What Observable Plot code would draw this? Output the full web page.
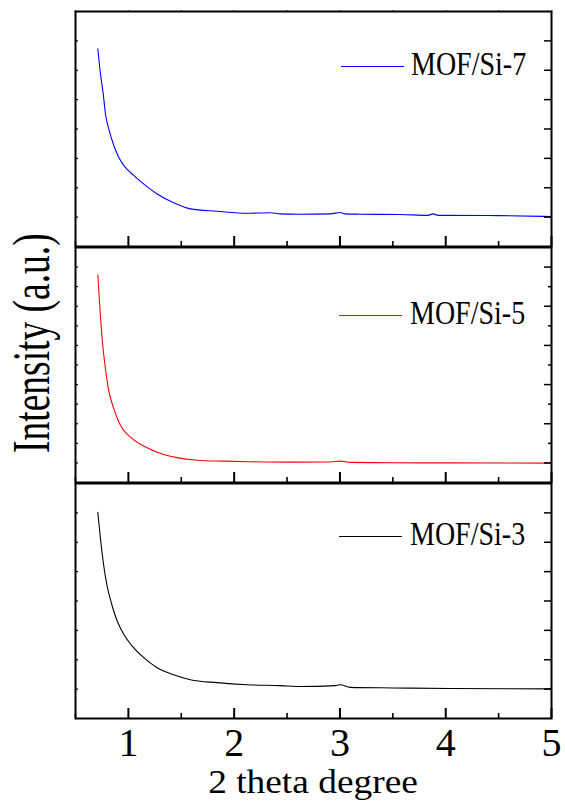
<!DOCTYPE html>
<html>
<head>
<meta charset="utf-8">
<script src="https://cdn.jsdelivr.net/npm/d3@7"></script>
<script src="https://cdn.jsdelivr.net/npm/@observablehq/plot@0.6"></script>
<style>
  html, body { margin: 0; padding: 0; background: #fff; }
  #chart { position: relative; width: 565px; height: 807px; overflow: hidden; font-family: "Liberation Serif", "Times New Roman", "DejaVu Serif", serif; }
  #chart svg { position: absolute; left: 0; }
  .lbl { position: absolute; left: 0; top: 0; white-space: nowrap; line-height: 1; transform-origin: 0 0; color: #000; font-family: "Liberation Serif", "Times New Roman", "DejaVu Serif", serif; }
  .swatch { position: absolute; height: 1px; }
</style>
</head>
<body>
<div id="chart"></div>
<script>
// ---- data ----
const samples = ["MOF/Si-7", "MOF/Si-5", "MOF/Si-3"];
const colors = ["#0000ff", "#ff0000", "#000000"];

const x7 = [0.711,0.736,0.762,0.783,0.814,0.862,0.909,0.956,1.051,1.161,1.272,1.428,1.586,1.838,2.121,2.341,2.436,2.625,2.908,3.002,3.05,3.191,3.569,3.833,3.880,3.928,4.513,5.0];
const y7 = [6.73,5.88,5.20,4.52,4.01,3.44,3.04,2.76,2.42,2.08,1.79,1.49,1.28,1.20,1.13,1.15,1.11,1.10,1.11,1.16,1.11,1.10,1.09,1.06,1.11,1.06,1.05,1.02];

const x5 = [0.711,0.729,0.752,0.783,0.814,0.862,0.909,0.956,1.019,1.145,1.272,1.460,1.649,1.900,2.153,2.530,2.908,3.002,3.097,3.503,4.041,5.0];
const y5 = [10.61,9.04,7.34,5.81,4.70,3.77,3.09,2.66,2.32,1.86,1.55,1.27,1.14,1.09,1.06,1.04,1.05,1.09,1.03,1.01,1.00,0.99];

const x3 = [0.711,0.736,0.767,0.799,0.847,0.894,0.956,1.035,1.145,1.272,1.428,1.586,1.838,2.121,2.436,2.625,2.955,3.002,3.097,3.503,4.041,5.0];
const y3 = [7.02,6.11,5.20,4.51,3.83,3.32,2.87,2.47,2.07,1.73,1.49,1.32,1.22,1.15,1.12,1.09,1.12,1.15,1.06,1.04,1.02,1.01];

const xDomain = [0.5, 5];
const xMajor = [1, 2, 3, 4, 5];
const xMinor = [0.5, 1.5, 2.5, 3.5, 4.5];
const yMax = [8, 12, 8];
const yTicks1 = [1, 2, 3, 4, 5, 6, 7];
const yTicks2Major = [1, 3, 5, 7, 9, 11];
const yTicks2Minor = [2, 4, 6, 8, 10];
const xTitle = "2 theta degree";
const yTitle = "Intensity (a.u.)";

// ---- build ----
const chart = document.getElementById("chart");
const FONT = "'Liberation Serif', 'Times New Roman', 'DejaVu Serif', serif";
const series = [
  x7.map((x, i) => ({x, y: y7[i]})),
  x5.map((x, i) => ({x, y: y5[i]})),
  x3.map((x, i) => ({x, y: y3[i]}))
];

const panelTop = [0, 236, 472];
const mTop = 11, plotH = 235;

samples.forEach((name, k) => {
  const last = k === 2;
  const marks = [
    Plot.line(series[k], {x: "x", y: "y", stroke: colors[k], strokeWidth: 1.1, curve: "monotone-x"}),
    Plot.axisX(xMajor, {anchor: "bottom", tickSize: -10, strokeWidth: 2, tickFormat: () => "", label: null}),
    Plot.axisX(xMinor, {anchor: "bottom", tickSize: -5, strokeWidth: 1.6, tickFormat: () => "", label: null}),
  ];
  if (k === 0) {
    marks.push(Plot.axisX([...xMajor, ...xMinor], {anchor: "top", tickSize: 1.5, strokeWidth: 1.6, tickFormat: () => "", label: null}));
  }
  if (k === 1) {
    const all = [...yTicks2Major, ...yTicks2Minor].sort((a, b) => a - b);
    marks.push(Plot.axisY(all, {anchor: "left", tickSize: -3, strokeWidth: 1.2, tickFormat: () => "", label: null}));
    marks.push(Plot.axisY(yTicks2Major, {anchor: "right", tickSize: -8, strokeWidth: 1.5, tickFormat: () => "", label: null}));
    marks.push(Plot.axisY(yTicks2Minor, {anchor: "right", tickSize: -4, strokeWidth: 1.5, tickFormat: () => "", label: null}));
  } else {
    marks.push(Plot.axisY(yTicks1, {anchor: "left", tickSize: -3, strokeWidth: 1.2, tickFormat: () => "", label: null}));
    marks.push(Plot.axisY(yTicks1, {anchor: "right", tickSize: -8, strokeWidth: 1.5, tickFormat: () => "", label: null}));
  }
  if (last) {
    marks.push(Plot.axisX(xMajor, {anchor: "bottom", tickSize: 0, tickPadding: 9, fontSize: 40, fontFamily: FONT, label: null}));
  }
  marks.push(Plot.frame({stroke: "#000", strokeWidth: 2}));
  const mBottom = last ? 89 : 0;
  const svg = Plot.plot({
    width: 565,
    height: mTop + plotH + mBottom,
    marginLeft: 75,
    marginRight: 14,
    marginTop: mTop,
    marginBottom: mBottom,
    x: {domain: xDomain},
    y: {domain: [0, yMax[k]]},
    style: {background: "transparent", overflow: "visible", fontFamily: FONT, color: "#000"},
    marks
  });
  svg.style.top = panelTop[k] + "px";
  chart.appendChild(svg);
});

// ---- legends and axis titles (HTML text) ----
function placeText(text, {x, y, size, sx = 1, sy = 1, rotate = 0, middle = false}) {
  const d = document.createElement("div");
  d.className = "lbl";
  d.textContent = text;
  d.style.fontSize = size + "px";
  d.style.transform = `translate(${x}px, ${y}px) rotate(${rotate}deg) scale(${sx}, ${sy}) translate(${middle ? "-50%" : "0"}, ${-0.8375 * size}px)`;
  chart.appendChild(d);
}
function swatch(x1, x2, y, color) {
  const s = document.createElement("div");
  s.className = "swatch";
  s.style.left = x1 + "px";
  s.style.width = (x2 - x1) + "px";
  s.style.top = y + "px";
  s.style.background = color;
  chart.appendChild(s);
}
const legendY = [66, 315, 536];
const legendX = [[341, 404, 411], [339, 402, 410], [339, 402, 410]];
samples.forEach((name, k) => {
  swatch(legendX[k][0], legendX[k][1], legendY[k], colors[k]);
  placeText(name, {x: legendX[k][2], y: legendY[k] + 9.5, size: 28, sy: 1.22});
});
placeText(xTitle, {x: 313, y: 793, size: 34, sx: 1.1, middle: true});
placeText(yTitle, {x: 50, y: 453, size: 37.5, sy: 1.4, rotate: -90});
</script>
</body>
</html>
